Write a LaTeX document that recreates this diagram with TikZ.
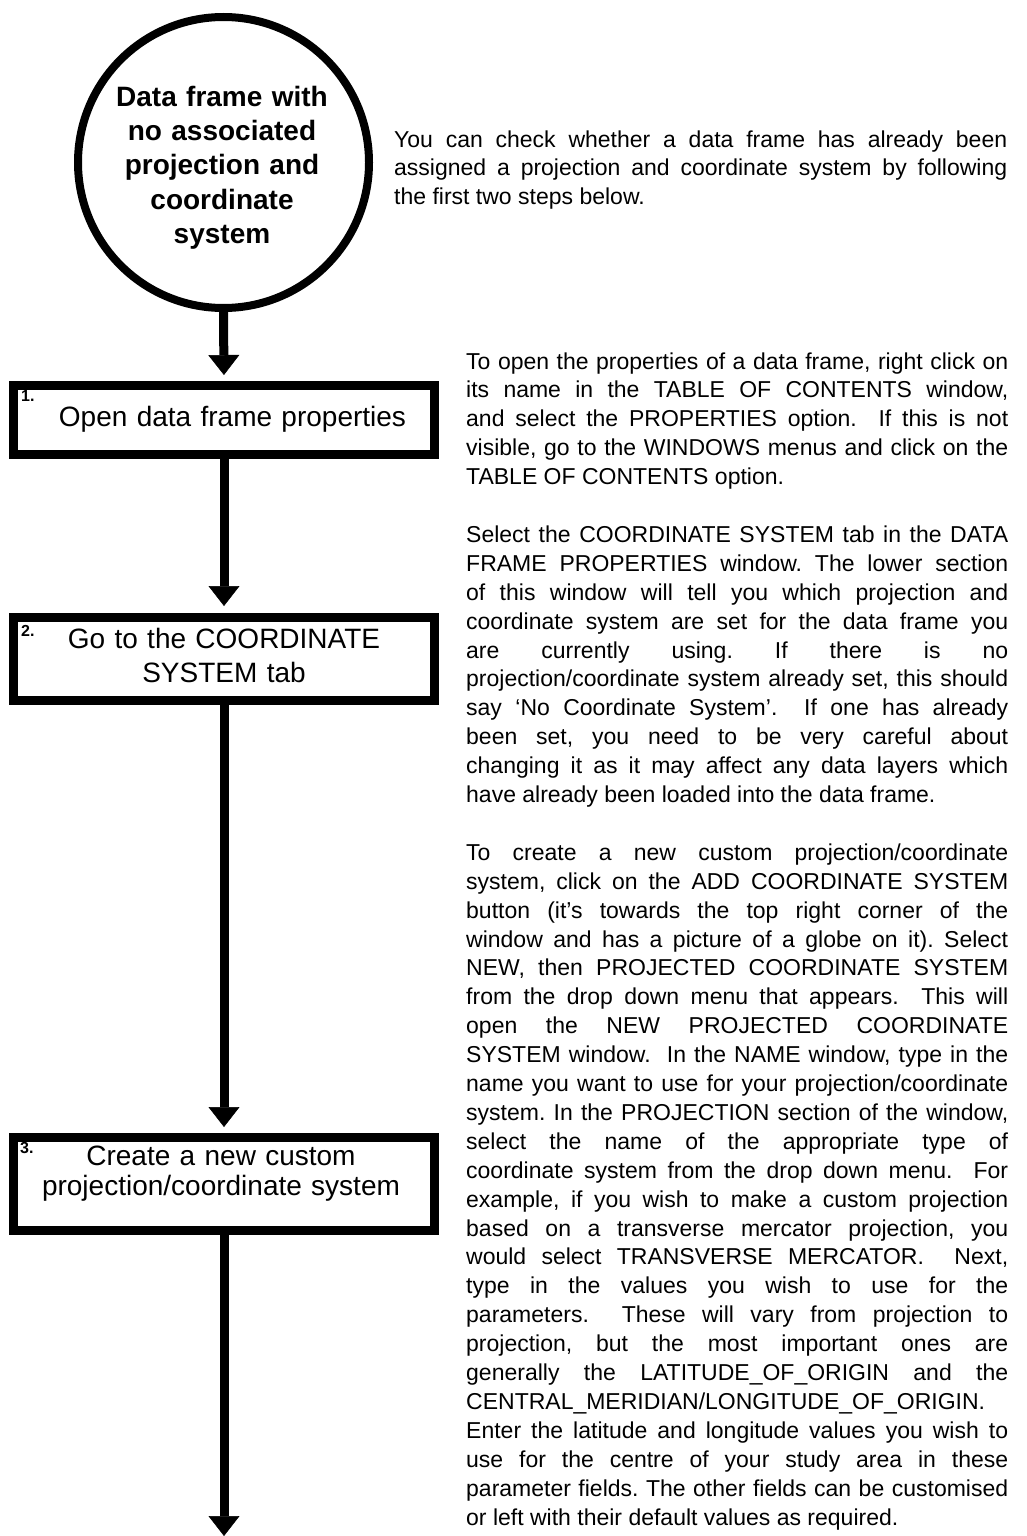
\documentclass[tikz,border=0pt]{standalone}
\usepackage{fontspec}
\setmainfont{Liberation Sans}
\usetikzlibrary{arrows.meta}
\frenchspacing
\newcommand{\jline}[1]{\noindent{\spaceskip=0pt\xspaceskip=0pt\makebox[\linewidth][s]{#1}}\par}
\newcommand{\pline}[1]{\noindent{\spaceskip=0pt\xspaceskip=0pt #1}\par}
\newcommand{\bline}{\noindent\mbox{}\par}
\begin{document}
\begin{tikzpicture}[x=1pt,y=-1pt,
  flowline/.style={line width=9pt,-{Triangle[width=31pt,length=20pt,line width=0.5pt]}},
  stepbox/.style={draw,rectangle,line width=9pt,inner sep=0pt,outer sep=4.5pt,minimum width=421pt},
  steptext/.style={inner sep=0pt,anchor=base,text width=420pt,align=center,font=\fontsize{28}{34}\selectfont},
  stepnum/.style={inner sep=0pt,anchor=base west,font=\bfseries\fontsize{16}{16}\selectfont},
  body/.style={inner sep=0pt,anchor=base west,align=justify,font=\fontsize{23}{28.9}\selectfont}]
\fill[white] (0,0) rectangle (1027,1536);
\useasboundingbox (0,0) rectangle (1027,1536);

% start circle
\node[draw,circle,line width=8pt,minimum size=291pt,inner sep=0pt,outer sep=4pt] (start) at (223.5,162.5) {};
\node[inner sep=0pt,anchor=base,text width=280pt,align=center,
      font=\bfseries\fontsize{28}{34}\selectfont] (starttext) at (222,107)
  {Data frame with\\no associated\\projection and\\coordinate\\system};

% step boxes
\node[stepbox,minimum height=69pt] (b1) at (224,420) {};
\node[stepbox,minimum height=83pt] (b2) at (224,659) {};
\node[stepbox,minimum height=93pt] (b3) at (224,1184) {};
\coordinate (endpt) at (224,1536);

\node[stepnum] (n1) at (21,401) {1.};
\node[stepnum] (n2) at (21,636) {2.};
\node[stepnum] (n3) at (20,1153) {3.};

\node[steptext] (t1) at (232.5,426) {Open data frame properties};
\node[steptext] (t2) at (224,648) {Go to the COORDINATE\\SYSTEM tab};
\node[steptext,font=\fontsize{28}{30}\selectfont] (t3) at (221,1165) {Create a new custom\hspace*{18pt}\\projection/coordinate system};

% connectors
\draw[flowline,shorten >=6pt] (start.south) -- (b1.north);
\draw[flowline,shorten >=7pt] (b1.south) -- (b2.north);
\draw[flowline,shorten >=6pt] (b2.south) -- (b3.north);
\draw[flowline] (b3.south) -- (endpt);

% explanatory text
\node[body,text width=613pt] (para1) at (394,147) {%
\jline{You can check whether a data frame has already been}%
\jline{assigned a projection and coordinate system by following}%
\pline{the first two steps below.}};

\node[body,text width=542pt] (para2) at (466,369) {%
\jline{To open the properties of a data frame, right click on}%
\jline{its name in the TABLE OF CONTENTS window,}%
\jline{and select the PROPERTIES option.\ \ If this is not}%
\jline{visible, go to the WINDOWS menus and click on the}%
\pline{TABLE OF CONTENTS option.}%
\bline
\jline{Select the COORDINATE SYSTEM tab in the DATA}%
\jline{FRAME PROPERTIES window. The lower section}%
\jline{of this window will tell you which projection and}%
\jline{coordinate system are set for the data frame you}%
\jline{are currently using. If there is no}%
\jline{projection/coordinate system already set, this should}%
\jline{say ‘No Coordinate System’.\ \ If one has already}%
\jline{been set, you need to be very careful about}%
\jline{changing it as it may affect any data layers which}%
\pline{have already been loaded into the data frame.}%
\bline
\jline{To create a new custom projection/coordinate}%
\jline{system, click on the ADD COORDINATE SYSTEM}%
\jline{button (it’s towards the top right corner of the}%
\jline{window and has a picture of a globe on it). Select}%
\jline{NEW, then PROJECTED COORDINATE SYSTEM}%
\jline{from the drop down menu that appears.\ \ This will}%
\jline{open the NEW PROJECTED COORDINATE}%
\jline{SYSTEM window.\ \ In the NAME window, type in the}%
\jline{name you want to use for your projection/coordinate}%
\jline{system. In the PROJECTION section of the window,}%
\jline{select the name of the appropriate type of}%
\jline{coordinate system from the drop down menu.\ \ For}%
\jline{example, if you wish to make a custom projection}%
\jline{based on a transverse mercator projection, you}%
\jline{would select TRANSVERSE MERCATOR.\ \ Next,}%
\jline{type in the values you wish to use for the}%
\jline{parameters.\ \ These will vary from projection to}%
\jline{projection, but the most important ones are}%
\jline{generally the LATITUDE\_OF\_ORIGIN and the}%
\pline{CENTRAL\_MERIDIAN/LONGITUDE\_OF\_ORIGIN.}%
\jline{Enter the latitude and longitude values you wish to}%
\jline{use for the centre of your study area in these}%
\jline{parameter fields. The other fields can be customised}%
\pline{or left with their default values as required.}};
\end{tikzpicture}
\end{document}
